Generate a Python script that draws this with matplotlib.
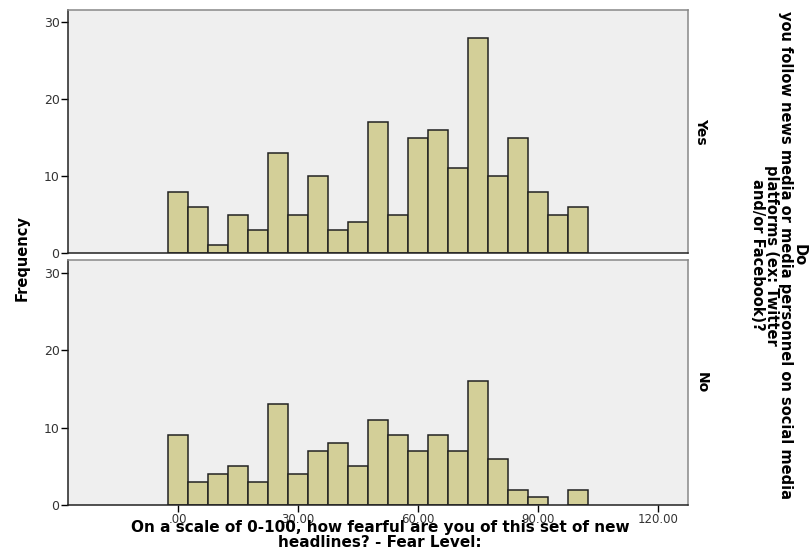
import numpy as np
import matplotlib
matplotlib.use("Agg")
import matplotlib.pyplot as plt

# bin centres (width 5) and counts per group
bin_centers = [0, 5, 10, 15, 20, 25, 30, 35, 40, 45, 50,
               55, 60, 65, 70, 75, 80, 85, 90, 95, 100]
yes_counts = [8, 6, 1, 5, 3, 13, 5, 10, 3, 4, 17,
              5, 15, 16, 11, 28, 10, 15, 8, 5, 6]
no_counts = [9, 3, 4, 5, 3, 13, 4, 7, 8, 5, 11,
             9, 7, 9, 7, 16, 6, 2, 1, 0, 2]
groups = ['Yes', 'No']
x_ticks = [0, 30, 60, 90, 120]
x_tick_labels = ['.00', '30.00', '60.00', '90.00', '120.00']
y_ticks = [0, 10, 20, 30]

BIN_WIDTH = 5
BAR_COLOR = '#d3cf98'
PANEL_BG = '#efefef'

fig = plt.figure(figsize=(8.09, 5.55), dpi=100)
ax_top = fig.add_axes([0.084, 0.544, 0.766, 0.438])
ax_bot = fig.add_axes([0.084, 0.090, 0.766, 0.441])

for ax, counts, name in zip([ax_top, ax_bot], [yes_counts, no_counts], groups):
    ax.set_facecolor(PANEL_BG)
    nonzero = [i for i, c in enumerate(counts) if c > 0]
    ax.bar([bin_centers[i] for i in nonzero], [counts[i] for i in nonzero],
           width=BIN_WIDTH, color=BAR_COLOR, edgecolor='#222222', linewidth=1.1)
    ax.set_xlim(-27.5, 127.5)
    ax.set_ylim(0, 31.6)
    ax.set_yticks(y_ticks)
    ax.tick_params(axis='y', direction='out', length=5, width=1,
                   labelsize=9, labelcolor='#333333', pad=1)
    for side in ['top', 'right']:
        ax.spines[side].set_color('#888888')
    for side in ['left', 'bottom']:
        ax.spines[side].set_color('#222222')
    for s in ax.spines.values():
        s.set_linewidth(1.1)
    # group label on the right
    ax.text(1.022, 0.5, name, transform=ax.transAxes, rotation=-90,
            ha='center', va='center', fontsize=10, fontweight='bold')

ax_top.set_xticks([])
ax_bot.set_xticks(x_ticks)
ax_bot.set_xticklabels(x_tick_labels)
ax_bot.tick_params(axis='x', direction='out', length=5, width=1,
                   labelsize=8.5, labelcolor='#333333', pad=1)

fig.text(0.027, 0.535, 'Frequency', rotation=90, ha='center', va='center',
         fontsize=10.5, fontweight='bold')
fig.text(0.47, 0.036, 'On a scale of 0-100, how fearful are you of this set of new\nheadlines? - Fear Level:',
         ha='center', va='center', fontsize=11, fontweight='bold', linespacing=0.95)
fig.text(0.962, 0.54,
         'Do\nyou follow news media or media personnel on social media\nplatforms (ex: Twitter\nand/or Facebook)?',
         rotation=-90, ha='center', va='center', multialignment='center',
         fontsize=10.5, fontweight='bold', linespacing=0.92)

fig.savefig('out.png', dpi=100)
